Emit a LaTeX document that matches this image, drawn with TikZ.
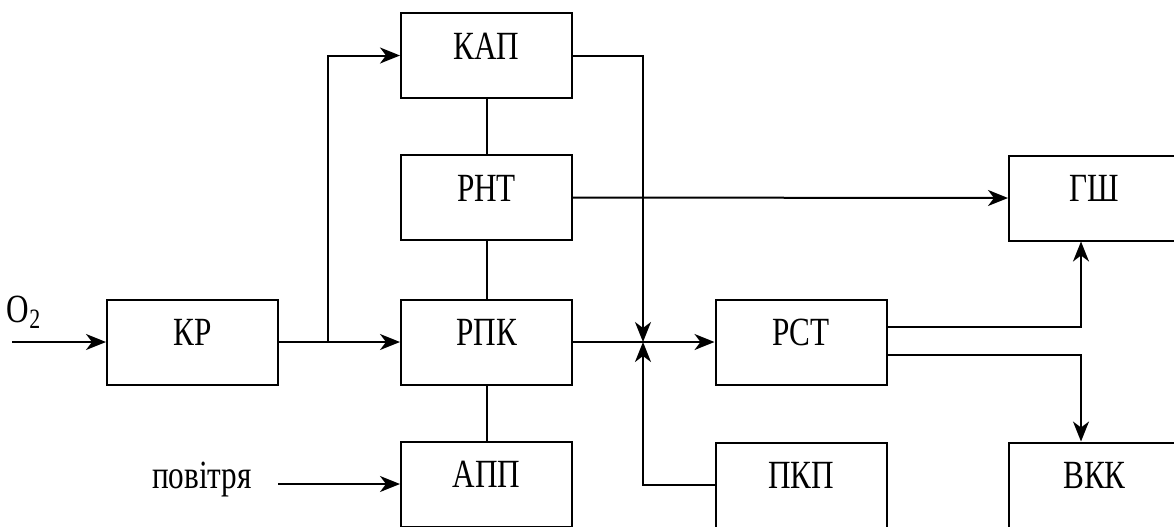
\documentclass[tikz,border=0pt]{standalone}
\usepackage{fontspec}
\setmainfont{Liberation Serif}[FakeStretch=0.78]
\usetikzlibrary{arrows.meta}
\tikzset{
  blk/.style={draw, line width=1pt, minimum width=85.5pt, minimum height=42.5pt, inner sep=0pt,
    text height=10pt, text depth=6.5pt, font=\fontsize{20}{24}\selectfont},
  lbl/.style={inner sep=0pt, font=\fontsize{20}{24}\selectfont},
  conn/.style={line width=1pt},
  arr/.style={conn, -{Stealth[length=10pt,width=8pt,inset=3pt]}}
}
\begin{document}
\begin{tikzpicture}[x=0.5pt,y=-0.5pt]
\useasboundingbox (0,0) rectangle (1174,526);
\begin{scope}
\clip (0,0) rectangle (1174,526);
% blocks
\node[blk] (kap) at (486.5,55.5) {КАП};
\node[blk] (rnt) at (486.5,197.5) {РНТ};
\node[blk] (rpk) at (486.5,342) {РПК};
\node[blk] (app) at (486.5,484) {АПП};
\node[blk] (kr) at (192.5,342) {КР};
\node[blk] (rst) at (801,342) {РСТ};
\node[blk] (pkp) at (801,485) {ПКП};
\node[blk] (gsh) at (1094.5,198) {ГШ};
\node[blk] (vkk) at (1094.5,485) {ВКК};
% labels
\node[lbl] (o2) at (24,312) {O\textsubscript{2}};
\node[lbl] (air) at (202,480) {повітря};
% helper coordinates
\coordinate (o2in) at (12,342);
\coordinate (airin) at (278,484);
\coordinate (br) at (328,342);
\coordinate (jn) at (643,342);
\coordinate (gx) at (1081,0);
% connectors
\draw[arr] (o2in) -- (kr.west);
\draw[arr] (kr.east) -- (rpk.west);
\draw[arr] (br) |- (kap.west);
\draw[conn] (kap.south) -- (rnt.north);
\draw[conn] (rnt.south) -- (rpk.north);
\draw[conn] (rpk.south) -- (app.north);
\draw[arr] (airin) -- (app.west);
\draw[arr] (kap.east) -| (jn);
\draw[arr] (pkp.west) -| (jn);
\draw[arr] (rpk.east) -- (rst.west);
\draw[arr] (rnt.east) -- (gsh.west);
\draw[arr] ([yshift=7.5pt]rst.east) -| (gsh.south -| gx);
\draw[arr] ([yshift=-6.5pt]rst.east) -| (vkk.north -| gx);
\end{scope}
\end{tikzpicture}
\end{document}
